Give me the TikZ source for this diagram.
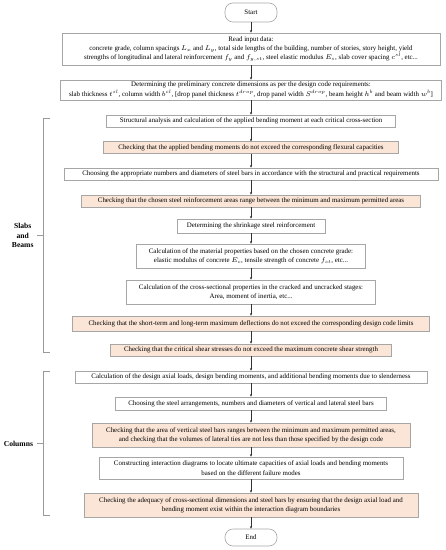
\RequirePackage{fix-cm}
\documentclass[tikz,border=0pt]{standalone}
\usepackage{fontspec}
\setmainfont{Liberation Serif}
\usepackage{xcolor}
\usepackage{tikz}
\usetikzlibrary{positioning, arrows.meta, calc}

\definecolor{checkfill}{HTML}{FBE5D6}
\definecolor{boxline}{HTML}{A6A6A6}
\definecolor{bracketline}{HTML}{9A9A9A}

\begin{document}
\begin{tikzpicture}[x=1bp, y=-1bp,
		process node/.style={rectangle, draw=boxline, line width=0.6bp, fill=white, align=center, inner sep=1bp, font=\fontsize{6.9bp}{9.3bp}\selectfont},
		check node/.style={process node, fill=checkfill},
		terminal node/.style={rectangle, rounded corners=8bp, draw=boxline, line width=0.6bp, minimum width=52bp, font=\fontsize{6.9bp}{9.3bp}\selectfont},
		group label/.style={align=center, font=\fontsize{7.6bp}{9.5bp}\selectfont\bfseries},
		flow arrow/.style={draw=black!80, line width=0.4bp, -{Stealth[length=2.6bp, width=2.2bp]}},
		group bracket/.style={draw=bracketline, line width=0.6bp}]
		
		\useasboundingbox (0,0) rectangle (446,550);
		
		% Nodes
		\node[terminal node, minimum height=19bp] (start) at (251,12.5) {Start};
		\node[process node, minimum width=378bp, minimum height=32bp] (input) at (251,49) {Read input data:\\
			concrete grade, column spacings $L_x$ and $L_y$, total side lengths of the building, number of stories, story height, yield\\
			strengths of longitudinal and lateral reinforcement $f_y$ and $f_{y,st}$, steel elastic modulus $E_s$, slab cover spacing $c^{sl}$, etc...};
		\node[process node, minimum width=381bp, minimum height=20bp] (prelim) at (251,90) {Determining the preliminary concrete dimensions as per the design code requirements:\\
			slab thickness $t^{sl}$, column width $b^{cl}$, [drop panel thickness $t^{drop}$, drop panel width $S^{drop}$, beam height $h^b$ and beam width $w^b$]};
		\node[process node, minimum width=289bp, minimum height=12bp] (analysis) at (251,121) {Structural analysis and calculation of the applied bending moment at each critical cross-section};
		\node[check node, minimum width=295bp, minimum height=11.5bp] (flexure) at (251,147.5) {Checking that the applied bending moments do not exceed the corresponding flexural capacities};
		\node[process node, minimum width=374bp, minimum height=12bp] (bars) at (251,174) {Choosing the appropriate numbers and diameters of steel bars in accordance with the structural and practical requirements};
		\node[check node, minimum width=339bp, minimum height=12bp] (areas) at (251,201) {Checking that the chosen steel reinforcement areas range between the minimum and maximum permitted areas};
		\node[process node, minimum width=148bp, minimum height=14bp] (shrink) at (251,226) {Determining the shrinkage steel reinforcement};
		\node[process node, minimum width=229bp, minimum height=24bp] (material) at (251,256) {Calculation of the material properties based on the chosen concrete grade:\\
			elastic modulus of concrete $E_c$, tensile strength of concrete $f_{ct}$, etc...};
		\node[process node, minimum width=249bp, minimum height=24bp] (section) at (251,292) {Calculation of the cross-sectional properties in the cracked and uncracked stages:\\
			Area, moment of inertia, etc...};
		\node[check node, minimum width=357bp, minimum height=15bp] (deflect) at (251,323.5) {Checking that the short-term and long-term maximum deflections do not exceed the corresponding design code limits};
		\node[check node, minimum width=281bp, minimum height=12bp] (shear) at (251,350) {Checking that the critical shear stresses do not exceed the maximum concrete shear strength};
		\node[process node, minimum width=352bp, minimum height=12bp] (axial) at (251,377) {Calculation of the design axial loads, design bending moments, and additional bending moments due to slenderness};
		\node[process node, minimum width=271bp, minimum height=13bp] (arrange) at (251,403.5) {Choosing the steel arrangements, numbers and diameters of vertical and lateral steel bars};
		\node[check node, minimum width=318bp, minimum height=24bp] (ties) at (251,435) {Checking that the area of vertical steel bars ranges between the minimum and maximum permitted areas,\\
			and checking that the volumes of lateral ties are not less than those specified by the design code};
		\node[process node, minimum width=304bp, minimum height=22bp] (interact) at (251,468) {Constructing interaction diagrams to locate ultimate capacities of axial loads and bending moments\\
			based on the different failure modes};
		\node[check node, minimum width=334bp, minimum height=24bp] (adequacy) at (251,505) {Checking the adequacy of cross-sectional dimensions and steel bars by ensuring that the design axial load and\\
			bending moment exist within the interaction diagram boundaries};
		\node[terminal node, minimum height=17bp] (end) at (251,537.5) {End};
		
		% Edges (flow)
		\path[flow arrow]
		(start) edge (input)
		(input) edge (prelim)
		(prelim) edge (analysis)
		(analysis) edge (flexure)
		(flexure) edge (bars)
		(bars) edge (areas)
		(areas) edge (shrink)
		(shrink) edge (material)
		(material) edge (section)
		(section) edge (deflect)
		(deflect) edge (shear)
		(shear) edge (axial)
		(axial) edge (arrange)
		(arrange) edge (ties)
		(ties) edge (interact)
		(interact) edge (adequacy)
		(adequacy) edge (end);
		
		% Groups
		\draw[group bracket] (50,118.5) -- (43,118.5) -- (43,352.5) -- (50,352.5);
		\draw[group bracket] (50,371) -- (43,371) -- (43,515) -- (50,515);
		\node[group label, anchor=east] (slabs) at (37,235.5) {Slabs\\and\\Beams};
		\node[group label, anchor=east] (columns) at (36.5,443.5) {Columns};
		\coordinate (slabs tick) at (43,235.5);
		\coordinate (columns tick) at (43,443.5);
		\draw[group bracket] (slabs.east) -- (slabs tick);
		\draw[group bracket] (columns.east) -- (columns tick);
	\end{tikzpicture}
\end{document}
